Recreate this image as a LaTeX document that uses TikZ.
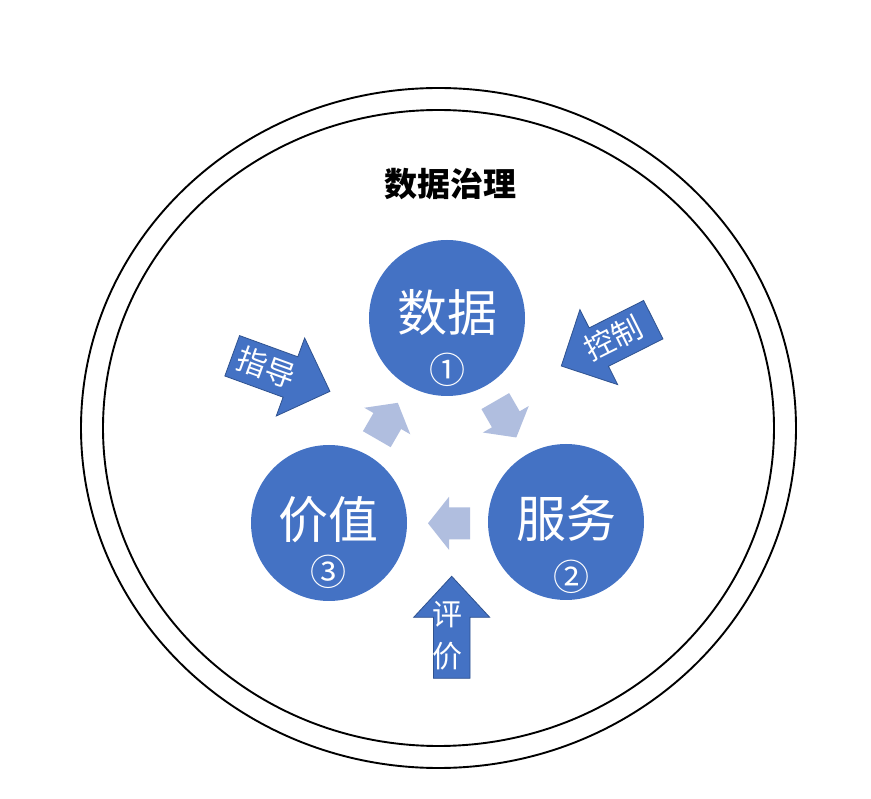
\documentclass[tikz,border=0pt]{standalone}
\usepackage{fontspec}
\newfontfamily\cjk{Noto Sans CJK SC}
\definecolor{mblue}{HTML}{4472C4}
\definecolor{mborder}{HTML}{2F528F}
\definecolor{lblue}{HTML}{B0BEDF}
\newcommand{\blockarrow}[8]{%
  \path[#1, shift={(#2,#3)}, rotate=#4]
    (0,-#6) -- ({#5-#8},-#6) -- ({#5-#8},-#7) -- (#5,0) -- ({#5-#8},#7) -- ({#5-#8},#6) -- (0,#6) -- cycle;}
\tikzset{
  ring/.style={draw=black, line width=1.9pt},
  topic/.style={circle, fill=mblue, minimum size=156pt, inner sep=0pt},
  bigtxt/.style={text=white, font=\cjk\fontsize{50}{60}\selectfont, inner sep=0pt},
  numtxt/.style={text=white, font=\cjk\fontsize{36}{40}\selectfont, inner sep=0pt},
  darrow/.style={fill=mblue, draw=mborder, line width=0.8pt, line join=miter},
  larrow/.style={fill=lblue},
  arrtxt/.style={text=white, font=\cjk\fontsize{30}{42}\selectfont, inner sep=0pt, align=center},
  title/.style={text=black, font=\cjk\bfseries\fontsize{33}{40}\selectfont, inner sep=0pt}
}
\begin{document}
\begin{tikzpicture}[x=1pt, y=1pt]
\useasboundingbox (0,0) rectangle (871,-799);
\fill[white] (0,0) rectangle (871,-799);
% rings
\draw[ring] (438.5,-428) ellipse [x radius=357.5, y radius=340];
\draw[ring] (438.5,-428) ellipse [x radius=335.5, y radius=318];
\node[title] (t) at (450,-184) {数据治理};
% topic circles
\node[topic] (d) at (447,-318) {};
\node[topic] (v) at (329,-523) {};
\node[topic] (s) at (566,-522) {};
\node[bigtxt] (dt) at (447,-313) {数据};
\node[numtxt] (dn) at (447,-370) {①};
\node[bigtxt] (st) at (566,-519) {服务};
\node[numtxt] (sn) at (571,-577) {②};
\node[bigtxt] (vt) at (328,-520) {价值};
\node[numtxt] (vn) at (328,-572) {③};
% light cycle arrows
\blockarrow{larrow}{376.8}{-439.2}{60}{42}{16}{26.5}{21}
\blockarrow{larrow}{495.3}{-401.1}{-60}{42}{16}{26.5}{21}
\blockarrow{larrow}{470}{-523.3}{180}{42}{16}{26.5}{21}
% dark labelled arrows
\blockarrow{darrow}{232.2}{-355.8}{-20}{104}{21.5}{41.5}{42}
\node[arrtxt, rotate=-20] (g) at (266.7,-367.3) {指导};
\blockarrow{darrow}{653.3}{-319.7}{206.7}{103}{21.5}{42}{42}
\node[arrtxt, rotate=26.7] (c) at (613.3,-338.3) {控制};
\blockarrow{darrow}{451.7}{-678.3}{90}{102}{18.3}{38}{41}
\node[arrtxt] (e) at (447,-636) {评\\价};
\end{tikzpicture}
\end{document}
